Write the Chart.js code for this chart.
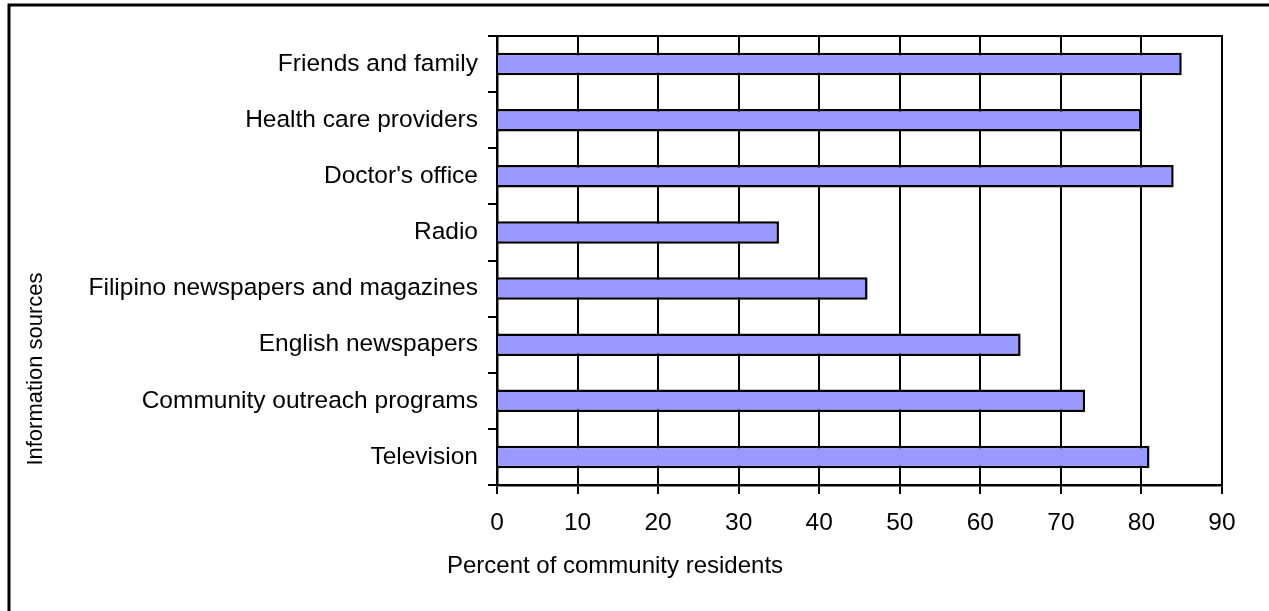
<!DOCTYPE html>
<html>
<head>
<meta charset="utf-8">
<script src="https://cdn.jsdelivr.net/npm/chart.js@4/dist/chart.umd.min.js"></script>
<style>
  html, body { margin: 0; padding: 0; background: #fff; }
  #myChart { display: block; }
</style>
</head>
<body>
<canvas id="myChart" width="1269" height="611"></canvas>
<script>
'use strict';
// data
var sources = ['Friends and family', 'Health care providers', 'Doctor\'s office', 'Radio',
  'Filipino newspapers and magazines', 'English newspapers', 'Community outreach programs', 'Television'];
var percents = [85, 80, 84, 35, 46, 65, 73, 81];
var xTickValues = [0, 10, 20, 30, 40, 50, 60, 70, 80, 90];
var xTitle = 'Percent of community residents';
var yTitle = 'Information sources';

var fontFamily = 'Arial, "Liberation Sans", Helvetica, sans-serif';
var fontSize = 24.5;

// draws the outer frame, the plot box and both axis titles
var framePlugin = {
  id: 'frame',
  afterDraw: function (chart) {
    var ctx = chart.ctx;
    var area = chart.chartArea;
    ctx.save();
    ctx.strokeStyle = '#000';
    ctx.lineWidth = 2;
    ctx.beginPath();
    ctx.moveTo(area.left, area.top);
    ctx.lineTo(area.right, area.top);
    ctx.lineTo(area.right, area.bottom);
    ctx.stroke();

    // outer border (only top and left show in the crop)
    ctx.lineWidth = 3;
    ctx.beginPath();
    ctx.moveTo(9, chart.height);
    ctx.lineTo(9, 5);
    ctx.lineTo(chart.width, 5);
    ctx.stroke();

    ctx.fillStyle = '#000';
    ctx.textAlign = 'center';
    ctx.textBaseline = 'middle';
    ctx.font = '24px ' + fontFamily;
    ctx.fillText(xTitle, 615, 566);

    ctx.font = '22px ' + fontFamily;
    ctx.translate(36, 369);
    ctx.rotate(-Math.PI / 2);
    ctx.fillText(yTitle, 0, 0);
    ctx.restore();
  }
};

var ctx = document.getElementById('myChart').getContext('2d');
var chart = new Chart(ctx, {
  type: 'bar',
  data: {
    labels: sources,
    datasets: [{
      label: 'Percent',
      data: percents,
      backgroundColor: '#9999FF',
      borderColor: '#000',
      borderWidth: 2.5,
      categoryPercentage: 1,
      barPercentage: 0.4
    }]
  },
  options: {
    indexAxis: 'y',
    responsive: false,
    animation: false,
    layout: {
      padding: { top: 36, right: 47, left: 0, bottom: 0 }
    },
    plugins: {
      legend: { display: false },
      tooltip: { enabled: false }
    },
    scales: {
      x: {
        type: 'linear',
        min: 0,
        max: 90,
        afterBuildTicks: function (scale) {
          scale.ticks = xTickValues.map(function (v) { return { value: v }; });
        },
        afterFit: function (scale) { scale.height = 126; },
        grid: { color: '#000', lineWidth: 2, tickLength: 9 },
        border: { color: '#000', width: 2.5 },
        ticks: {
          color: '#000',
          padding: 15,
          font: { family: fontFamily, size: fontSize }
        }
      },
      y: {
        afterFit: function (scale) { scale.width = 497; },
        grid: { offset: true, drawOnChartArea: false, color: '#000', lineWidth: 2, tickLength: 9 },
        border: { color: '#000', width: 2.5 },
        ticks: {
          color: '#000',
          padding: 10,
          font: { family: fontFamily, size: fontSize }
        }
      }
    }
  },
  plugins: [framePlugin]
});
</script>
</body>
</html>
